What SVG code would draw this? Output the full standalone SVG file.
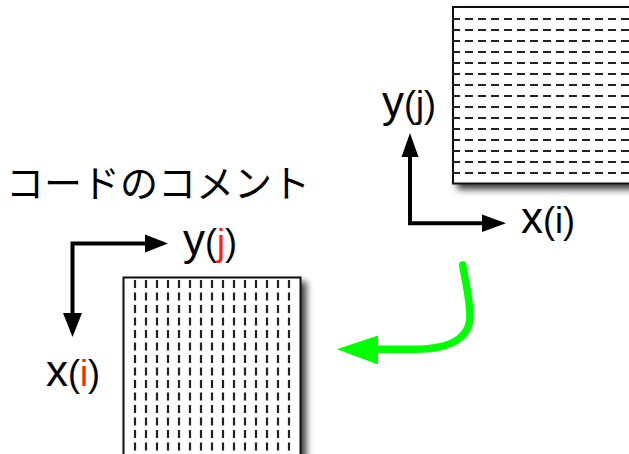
<svg xmlns="http://www.w3.org/2000/svg" width="629" height="454" viewBox="0 0 629 454">
<defs>
<filter id="shadow" x="-10%" y="-10%" width="130%" height="130%">
<feGaussianBlur in="SourceAlpha" stdDeviation="3.5"/>
<feOffset dx="5" dy="5" result="b"/>
<feComponentTransfer><feFuncA type="linear" slope="0.75"/></feComponentTransfer>
<feMerge><feMergeNode/><feMergeNode in="SourceGraphic"/></feMerge>
</filter>
</defs>
<style>
.box{fill:#fff;stroke:#111;stroke-width:2}
.hd{stroke:#222;stroke-width:2.2;stroke-dasharray:8 5;fill:none}
.vd{stroke:#222;stroke-width:2.2;stroke-dasharray:8 4.5;fill:none}
.ax{stroke:#000;stroke-width:4;fill:none}
.ah{fill:#000}
.big{font-family:"Liberation Sans",Arial,sans-serif;font-size:44px;fill:#000}
.par{font-size:36px}
.red{fill:#ff2200}
.jp{font-family:"Noto Sans CJK JP","Noto Sans",sans-serif;font-size:38px;fill:#000}
</style>
<g id="grid-top-right">
<rect class="box" x="453" y="7" width="200" height="176.5" filter="url(#shadow)"/>
<g class="hd">
<line x1="452" y1="19" x2="629" y2="19"/>
<line x1="452" y1="30" x2="629" y2="30"/>
<line x1="452" y1="41" x2="629" y2="41"/>
<line x1="452" y1="52" x2="629" y2="52"/>
<line x1="452" y1="63" x2="629" y2="63"/>
<line x1="452" y1="74" x2="629" y2="74"/>
<line x1="452" y1="85" x2="629" y2="85"/>
<line x1="452" y1="96" x2="629" y2="96"/>
<line x1="452" y1="107" x2="629" y2="107"/>
<line x1="452" y1="118" x2="629" y2="118"/>
<line x1="452" y1="129" x2="629" y2="129"/>
<line x1="452" y1="140" x2="629" y2="140"/>
<line x1="452" y1="151" x2="629" y2="151"/>
<line x1="452" y1="162" x2="629" y2="162"/>
<line x1="452" y1="173" x2="629" y2="173"/>
</g>
</g>
<g id="grid-bottom-left">
<rect class="box" x="123.5" y="277.5" width="177" height="200" filter="url(#shadow)"/>
<g class="vd">
<line x1="135" y1="280" x2="135" y2="454"/>
<line x1="146" y1="280" x2="146" y2="454"/>
<line x1="157" y1="280" x2="157" y2="454"/>
<line x1="168" y1="280" x2="168" y2="454"/>
<line x1="179" y1="280" x2="179" y2="454"/>
<line x1="190" y1="280" x2="190" y2="454"/>
<line x1="201" y1="280" x2="201" y2="454"/>
<line x1="212" y1="280" x2="212" y2="454"/>
<line x1="223" y1="280" x2="223" y2="454"/>
<line x1="234" y1="280" x2="234" y2="454"/>
<line x1="245" y1="280" x2="245" y2="454"/>
<line x1="256" y1="280" x2="256" y2="454"/>
<line x1="267" y1="280" x2="267" y2="454"/>
<line x1="278" y1="280" x2="278" y2="454"/>
<line x1="289" y1="280" x2="289" y2="454"/>
</g>
</g>
<g id="label-comment">
<text class="jp" x="6" y="197">コードのコメント</text>
</g>
<g id="label-y-right"><text class="big" x="382" y="117">y<tspan class="par">(j)</tspan></text></g>
<g id="label-x-right"><text class="big" x="521" y="233">x<tspan class="par">(i)</tspan></text></g>
<g id="label-y-left"><text class="big" x="183" y="255">y<tspan class="par">(<tspan class="red">j</tspan>)</tspan></text></g>
<g id="label-x-left"><text class="big" x="46" y="386">x<tspan class="par">(<tspan class="red">i</tspan>)</tspan></text></g>
<g id="connectors">
<polyline class="ax" points="410,156 410,223.3 483,223.3"/>
<polygon class="ah" points="410,133 401.5,157 418.5,157"/>
<polygon class="ah" points="506,223.3 482,214.5 482,232"/>
<polyline class="ax" points="146,243.5 72.5,243.5 72.5,314"/>
<polygon class="ah" points="168,243.5 145,234.5 145,252.5"/>
<polygon class="ah" points="72.5,337 63,313 82,313"/>
<path d="M462.7,265 C466,285 470,300 470,316 C470,338 450,349 415,349.3 L376,349.3" fill="none" stroke="#00ff00" stroke-width="7.5" stroke-linecap="round"/>
<polygon points="337,349.3 378,335.5 378,364.5" fill="#00ff00"/>
</g>
</svg>
